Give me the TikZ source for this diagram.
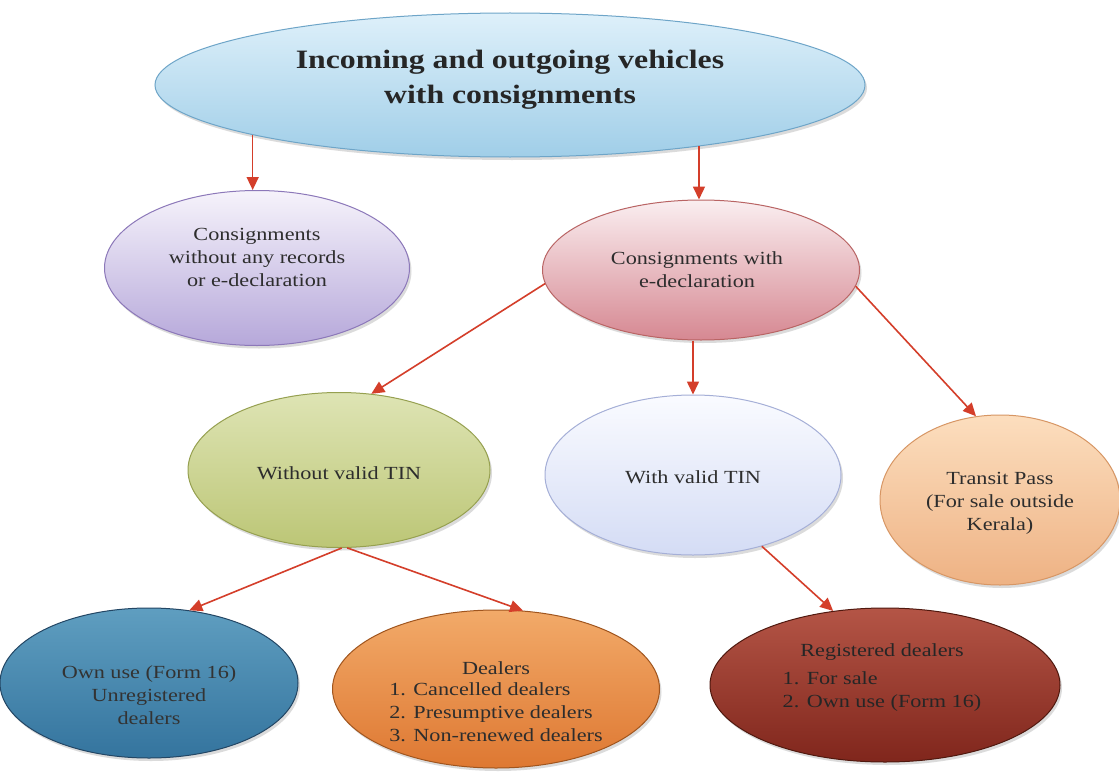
\documentclass[tikz,border=0pt]{standalone}
\usepackage{fontspec}
\setmainfont{Liberation Serif}[FakeStretch=1.2]
\usetikzlibrary{arrows.meta,shadows,shapes.geometric}
\definecolor{txt}{RGB}{45,45,45}
\definecolor{arrred}{RGB}{212,62,42}
\definecolor{topA}{RGB}{222,240,250}\definecolor{topB}{RGB}{160,206,232}\definecolor{topD}{RGB}{110,165,200}
\definecolor{purA}{RGB}{246,243,251}\definecolor{purB}{RGB}{182,168,218}\definecolor{purD}{RGB}{140,120,185}
\definecolor{pnkA}{RGB}{250,238,240}\definecolor{pnkB}{RGB}{214,136,146}\definecolor{pnkD}{RGB}{185,100,100}
\definecolor{grnA}{RGB}{222,228,180}\definecolor{grnB}{RGB}{188,198,118}\definecolor{grnD}{RGB}{150,160,80}
\definecolor{lbA}{RGB}{250,251,255}\definecolor{lbB}{RGB}{212,220,245}\definecolor{lbD}{RGB}{165,175,215}
\definecolor{trA}{RGB}{252,222,190}\definecolor{trB}{RGB}{238,178,132}\definecolor{trD}{RGB}{215,150,100}
\definecolor{tlA}{RGB}{95,158,192}\definecolor{tlB}{RGB}{52,116,158}\definecolor{tlD}{RGB}{35,70,100}
\definecolor{orA}{RGB}{242,170,105}\definecolor{orB}{RGB}{222,120,50}\definecolor{orD}{RGB}{160,85,30}
\definecolor{drA}{RGB}{180,85,70}\definecolor{drB}{RGB}{128,38,28}\definecolor{drD}{RGB}{80,25,15}
\tikzset{
  bub/.style={ellipse, draw, line width=1pt, inner sep=0pt,
    drop shadow={opacity=0.28, shadow xshift=2pt, shadow yshift=-3pt}},
  lbl/.style={align=center, text=txt, inner sep=0pt, font=\fontsize{18.5}{23}\selectfont},
  arr/.style={draw=arrred, line width=1.6pt, -{Triangle[length=13pt,width=12pt]}}
}
\begin{document}
\begin{tikzpicture}[x=1pt,y=-1pt]
\useasboundingbox[fill=white] (0,0) rectangle (1119,776);
% ellipses
\node[bub, minimum width=710, minimum height=144, top color=topA, bottom color=topB, draw=topD] (top) at (510,85) {};
\node[bub, minimum width=305, minimum height=155, top color=purA, bottom color=purB, draw=purD] (purple) at (257,268) {};
\node[bub, minimum width=317, minimum height=140, top color=pnkA, bottom color=pnkB, draw=pnkD] (pink) at (701,270) {};
\node[bub, minimum width=302, minimum height=155, top color=grnA, bottom color=grnB, draw=grnD] (green) at (339,470) {};
\node[bub, minimum width=296, minimum height=160, top color=lbA, bottom color=lbB, draw=lbD] (lb) at (693,475) {};
\node[bub, minimum width=240, minimum height=170, top color=trA, bottom color=trB, draw=trD] (transit) at (1000,500) {};
\node[bub, minimum width=298, minimum height=150, top color=tlA, bottom color=tlB, draw=tlD] (teal) at (149,683) {};
\node[bub, minimum width=327, minimum height=158, top color=orA, bottom color=orB, draw=orD] (orange) at (496,689) {};
\node[bub, minimum width=350, minimum height=154, top color=drA, bottom color=drB, draw=drD] (dred) at (885,685) {};
% texts
\node[lbl, font=\fontsize{26.5}{35}\selectfont\bfseries, text=black!85] (topT) at (510,80) {Incoming and outgoing vehicles\\with consignments};
\node[lbl] (purpleT) at (257,257) {Consignments\\without any records\\or e-declaration};
\node[lbl] (pinkT) at (697,270) {Consignments with\\e-declaration};
\node[lbl] (greenT) at (339,473) {Without valid TIN};
\node[lbl] (lbT) at (693,477) {With valid TIN};
\node[lbl] (transitT) at (1000,503) {Transit Pass\\(For sale outside\\Kerala)};
\node[lbl, text=black!80] (tealT) at (149,695) {Own use (Form 16)\\Unregistered\\dealers};
\node[lbl] (orangeT) at (496,705) {Dealers\\[3pt]\begin{tabular}{@{}l@{}}1. Cancelled dealers\\2. Presumptive dealers\\3. Non-renewed dealers\end{tabular}};
\node[lbl, text=black!85] (dredT) at (882,679) {Registered dealers\\[7pt]\begin{tabular}{@{}l@{}}1. For sale\\2. Own use (Form 16)\end{tabular}};
% arrows
\draw[arr] (top.191) -- (top.191 |- purple.north);
\draw[arr] (top.-18.6) -- (top.-18.6 |- pink.north);
\draw[arr] (pink.185) -- (green.67);
\draw[arr] (lb.north |- pink.south) -- (lb.north);
\draw[arr] (pink.-6.4) -- (transit.106);
\draw[arr] (green.-88) -- (teal.61);
\draw[arr] (green.-84) -- (orange.71);
\draw[arr] (lb.-46) -- (dred.125);
\end{tikzpicture}
\end{document}
